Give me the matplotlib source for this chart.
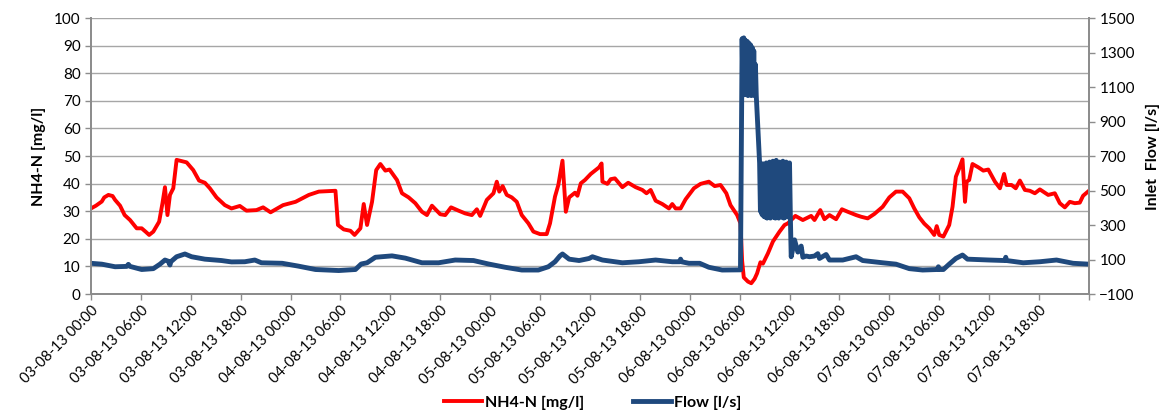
import matplotlib
matplotlib.use("Agg")
import matplotlib.pyplot as plt
import numpy as np
import pandas as pd
from matplotlib.lines import Line2D

plt.rcParams['font.family'] = ['Lato', 'DejaVu Sans']

start = pd.Timestamp("2013-08-03 00:00")

# NH4-N [mg/l] : hours since start, values
nh4_hours = [0.0, 0.6, 1.3, 1.6, 2.1, 2.6, 2.9, 3.5, 4.05, 4.7, 5.5, 6.1, 6.6, 7.0, 7.5, 8.2, 8.6, 8.9, 9.2, 9.5,
             9.9, 10.3, 10.7, 11.5, 12.3, 13.0, 13.7, 14.3, 15.1, 16.1, 16.9, 17.9, 18.7, 19.9, 20.7, 21.6, 23.1,
             24.6, 26.2, 27.4, 29.4, 29.7, 30.4, 31.2, 31.7, 32.4, 32.8, 33.2, 33.8, 34.3, 34.8, 35.4, 35.9, 36.8,
             37.4, 38.2, 39.0, 39.8, 40.4, 41.0, 42.0, 42.6, 43.3, 44.2, 45.0, 45.8, 46.4, 46.8, 47.6, 48.4, 48.8,
             49.1, 49.5, 50.0, 50.6, 51.2, 51.8, 52.6, 53.2, 54.0, 54.8, 55.2, 55.8, 56.2, 56.7, 57.1, 57.5, 58.2,
             58.5, 58.9, 59.4, 60.1, 61.1, 61.4, 61.5, 62.1, 62.5, 63.0, 63.9, 64.6, 65.5, 66.3, 66.8, 67.3, 67.9,
             68.7, 69.5, 69.9, 70.3, 70.9, 71.5, 72.5, 73.3, 74.3, 75.0, 75.7, 76.4, 76.9, 77.7, 78.1, 78.3, 78.5,
             79.0, 79.4, 79.8, 80.1, 80.5, 80.8, 81.4, 82.0, 82.8, 83.4, 83.8, 84.4, 84.7, 85.6, 86.6, 87.0, 87.7,
             88.2, 88.8, 89.6, 90.3, 91.0, 92.0, 92.6, 93.4, 94.2, 95.2, 96.0, 96.8, 97.6, 98.4, 99.0, 99.6, 100.2,
             100.8, 101.4, 101.7, 102.0, 102.5, 103.2, 103.6, 104.0, 104.4, 104.8, 105.1, 105.3, 105.6, 106.0,
             106.7, 107.3, 107.9, 108.7, 109.3, 109.8, 110.1, 110.7, 111.2, 111.7, 112.3, 112.9, 113.5, 114.1,
             114.5, 115.1, 115.9, 116.5, 117.1, 117.7, 118.3, 118.9, 119.3, 120.0]
nh4_values = [31.0, 32.0, 33.5, 35.0, 35.9, 35.5, 34.1, 32.0, 28.6, 26.8, 23.8, 23.8, 22.5, 21.4, 22.6, 26.2, 32.9,
              38.7, 28.6, 35.9, 38.3, 48.6, 48.3, 47.7, 44.9, 41.1, 40.3, 38.3, 35.0, 32.2, 31.0, 31.9, 30.2, 30.4,
              31.4, 29.6, 32.2, 33.4, 35.9, 37.1, 37.4, 25.0, 23.4, 22.9, 21.4, 23.8, 32.6, 25.0, 33.4, 44.9, 47.1,
              44.7, 45.1, 41.3, 36.5, 35.0, 32.9, 29.8, 28.6, 32.0, 28.9, 28.6, 31.4, 30.2, 29.2, 28.6, 30.7, 28.3,
              34.1, 36.5, 40.7, 37.1, 39.1, 35.9, 35.0, 33.4, 28.6, 25.6, 22.6, 21.7, 21.7, 25.6, 35.3, 39.5, 48.3,
              29.8, 35.0, 36.7, 35.6, 40.1, 41.3, 43.5, 45.9, 47.3, 40.7, 39.9, 41.6, 41.9, 38.7, 40.3, 38.7, 37.7,
              36.5, 37.7, 33.8, 32.6, 31.0, 32.6, 31.0, 31.0, 34.3, 38.3, 39.9, 40.7, 39.1, 39.5, 36.5, 32.2, 28.6,
              25.6, 12.0, 6.0, 4.5, 3.9, 5.5, 7.5, 11.5, 11.0, 14.7, 19.0, 22.6, 25.0, 25.6, 27.4, 28.3, 26.8, 28.3,
              26.8, 30.4, 27.1, 28.6, 27.1, 30.7, 29.8, 28.6, 28.0, 27.4, 29.0, 31.6, 35.0, 37.1, 37.1, 34.7, 31.0,
              27.8, 25.5, 23.8, 21.4, 24.6, 21.4, 20.8, 25.0, 31.6, 42.5, 45.5, 48.8, 33.4, 40.7, 41.3, 47.1, 45.9,
              44.7, 45.1, 40.7, 38.3, 43.5, 39.5, 39.5, 38.3, 41.1, 37.7, 37.4, 36.5, 37.9, 37.1, 35.9, 36.5, 32.9,
              31.4, 33.4, 32.9, 33.1, 35.6, 37.4]

# Inlet flow [l/s] : hours since start, values
flow_hours = [0.0, 1.3, 2.9, 4.3, 4.5, 4.7, 6.1, 7.5, 8.3, 8.9, 9.3, 9.5, 9.6, 10.3, 11.3, 12.1, 13.7, 15.7, 16.9,
              18.5, 19.7, 20.5, 23.0, 24.9, 27.0, 29.8, 31.8, 32.5, 33.2, 34.2, 36.2, 37.8, 39.8, 41.8, 43.8, 46.0,
              47.8, 49.8, 51.8, 53.8, 55.0, 55.8, 56.4, 56.7, 57.5, 58.7, 59.9, 60.3, 61.5, 63.9, 65.9, 67.9, 69.9,
              70.8, 70.9, 71.0, 71.9, 73.2, 74.3, 75.9, 78.1,
              78.3, 78.4, 78.5, 78.6, 78.7, 78.8, 78.9, 79.0, 79.1, 79.2, 79.3, 79.4, 79.5, 79.6, 79.7, 79.8, 79.9,
              80.0, 80.2, 80.4,
              80.5, 80.6, 80.7, 80.8, 80.9, 81.0, 81.1, 81.2, 81.3, 81.4, 81.5, 81.6, 81.7, 81.8, 81.9, 82.0, 82.1,
              82.2, 82.3, 82.4, 82.5, 82.6, 82.7, 82.8, 82.9, 83.0, 83.1, 83.2, 83.3, 83.4, 83.5, 83.6, 83.7, 83.8,
              83.9, 84.0, 84.1,
              84.2, 84.6, 85.0, 85.4, 85.6, 86.0, 86.4, 87.0, 87.4, 87.6, 88.4, 88.8, 90.4, 92.0, 92.8, 95.2, 96.8,
              98.4, 100.0, 101.8, 101.9, 102.0, 102.5, 103.2, 104.0, 104.8, 105.4, 108.0, 109.9, 110.0, 110.1,
              112.1, 114.1, 116.1, 118.1, 120.0]
flow_values = [78, 73, 58, 60, 72, 60, 42, 47, 73, 97, 90, 68, 87, 116, 132, 116, 102, 94, 86,
               87, 97, 81, 78, 62, 42, 36, 42, 74, 81, 113, 121, 108, 81, 81, 97, 94,
               74, 55, 39, 39, 58, 87, 121, 132, 102, 94, 106, 116, 97, 81, 87, 97, 87,
               87, 102, 87, 78, 78, 55, 39, 40,
               1380, 1060, 1385, 1055, 1370, 1060, 1365, 1050, 1355, 1060, 1345, 1050, 1330, 1055, 1310, 1050, 1230,
               1050, 860, 660,
               380, 650, 360, 655, 350, 640, 345, 660, 340, 650, 345, 665, 340, 655, 350, 670, 345,
               650, 340, 675, 345, 660, 340, 665, 350, 655, 345, 670, 340, 660, 345, 665, 350, 655,
               345, 660, 350,
               116, 214, 143, 178, 113, 120, 116, 120, 134, 106, 129, 97, 97, 116, 94, 81, 73,
               47, 39, 42, 58, 42, 42, 73, 106, 126, 102, 97, 94, 113, 94,
               81, 87, 97, 78, 73]

tick_hours = list(range(0, 121, 6))

RED = '#FF0000'
BLUE = '#1F497D'
GRID = '#A6A6A6'
AX = '#8C8C8C'

def to_time(h):
    return start + pd.to_timedelta(np.asarray(h, dtype=float), unit='h')

fig = plt.figure(figsize=(11.69, 4.12), dpi=100)
ax = fig.add_axes([0.0778, 0.2864, 0.8537, 0.6699])
ax2 = ax.twinx()

ax.plot(to_time(nh4_hours), nh4_values, color=RED, lw=2.8, solid_joinstyle='round')
ax2.plot(to_time(flow_hours), flow_values, color=BLUE, lw=3.5, solid_joinstyle='round')

ax.set_xlim(to_time([0])[0], to_time([120])[0])
ax.set_ylim(0, 100)
ax.set_yticks(range(0, 101, 10))
ax2.set_ylim(-100, 1500)
ax2.set_yticks(range(-100, 1501, 200))

ticks = to_time(tick_hours)
ax.set_xticks(ticks)
labels = [t.strftime('%d-%m-%y %H:%M') for t in ticks]
labels[-1] = ''
ax.set_xticklabels(labels, rotation=45, ha='right', rotation_mode='anchor')

ax.grid(axis='y', color=GRID, lw=1.0)
ax.set_axisbelow(True)
for a in (ax, ax2):
    a.spines['top'].set_visible(False)
    for s in ('left', 'right', 'bottom'):
        a.spines[s].set_color(AX)
        a.spines[s].set_linewidth(1.3)
    a.tick_params(colors=AX, labelcolor='black', length=4, width=1.0, labelsize=11)
ax.tick_params(axis='x', labelsize=10.5, pad=3)

ax.set_ylabel('NH4-N [mg/l]', fontsize=11.5, fontweight='bold', labelpad=6)
ax2.set_ylabel('Inlet  Flow [l/s]', fontsize=11.5, fontweight='bold', labelpad=8)

handles = [Line2D([], [], color=RED, lw=2.8), Line2D([], [], color=BLUE, lw=3.5)]
leg = fig.legend(handles, ['NH4-N [mg/l]', 'Flow [l/s]'], loc='center', bbox_to_anchor=(0.507, 0.022),
                 ncol=2, frameon=False, handlelength=2.4, handletextpad=0.2, columnspacing=3.0,
                 prop={'weight': 'bold', 'size': 11.5})

fig.savefig('out.png', dpi=100)
